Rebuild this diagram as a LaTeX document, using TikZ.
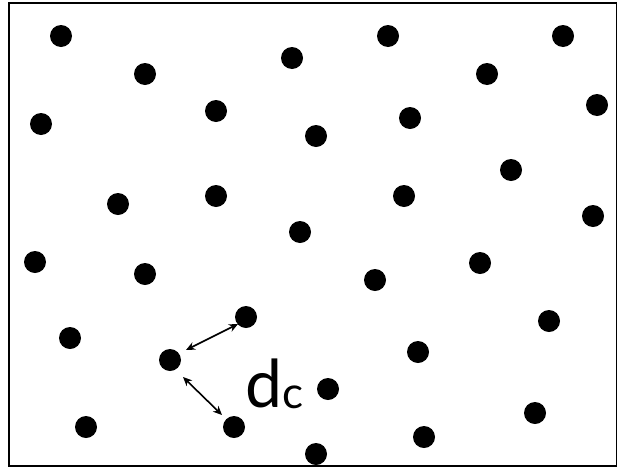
\documentclass[tikz,border=0pt]{standalone}
\usepackage{fontspec}
\setmainfont{Lato}
\usetikzlibrary{arrows.meta}
\begin{document}
\begin{tikzpicture}[x=1pt,y=-1pt,
  pt/.style={circle,fill=black,inner sep=0pt,minimum size=22pt},
  dist/.style={{Stealth[length=9pt,width=8pt]}-{Stealth[length=9pt,width=8pt]},line width=1.6pt}]
\useasboundingbox (0,0) rectangle (618,469);
\draw[line width=1.5pt] (9,3) rectangle (616.5,466);
\foreach \n/\x/\y in {1/61/36,2/145/74,3/292/58,4/388/36,5/563/36,6/487/74,
  7/41/124,8/216/111,9/316/136,10/410/118,11/597/105,12/118/204,13/216/196,
  14/404/196,15/511/170,16/593/216,17/300/232,18/35/262,19/145/274,20/375/280,
  21/480/263,22/70/338,23/246/317,24/170/360,25/418/352,26/549/321,27/328/389,
  28/86/427,29/234/427,30/316/454,31/424/437,32/535/413}
  \node[pt] (p\n) at (\x,\y) {};
\coordinate (a1s) at (186,350);
\coordinate (a1e) at (238,324);
\coordinate (a2s) at (183,377);
\coordinate (a2e) at (222,415);
\draw[dist] (a1s) -- (a1e);
\draw[dist] (a2s) -- (a2e);
\node[anchor=base west,inner sep=0pt,font=\fontsize{66}{66}\selectfont] (dlab) at (245,407) {d};
\node[anchor=base west,inner sep=0pt,font=\fontsize{44}{44}\selectfont] (clab) at ([yshift=-1pt]dlab.base east) {c};
\end{tikzpicture}
\end{document}
